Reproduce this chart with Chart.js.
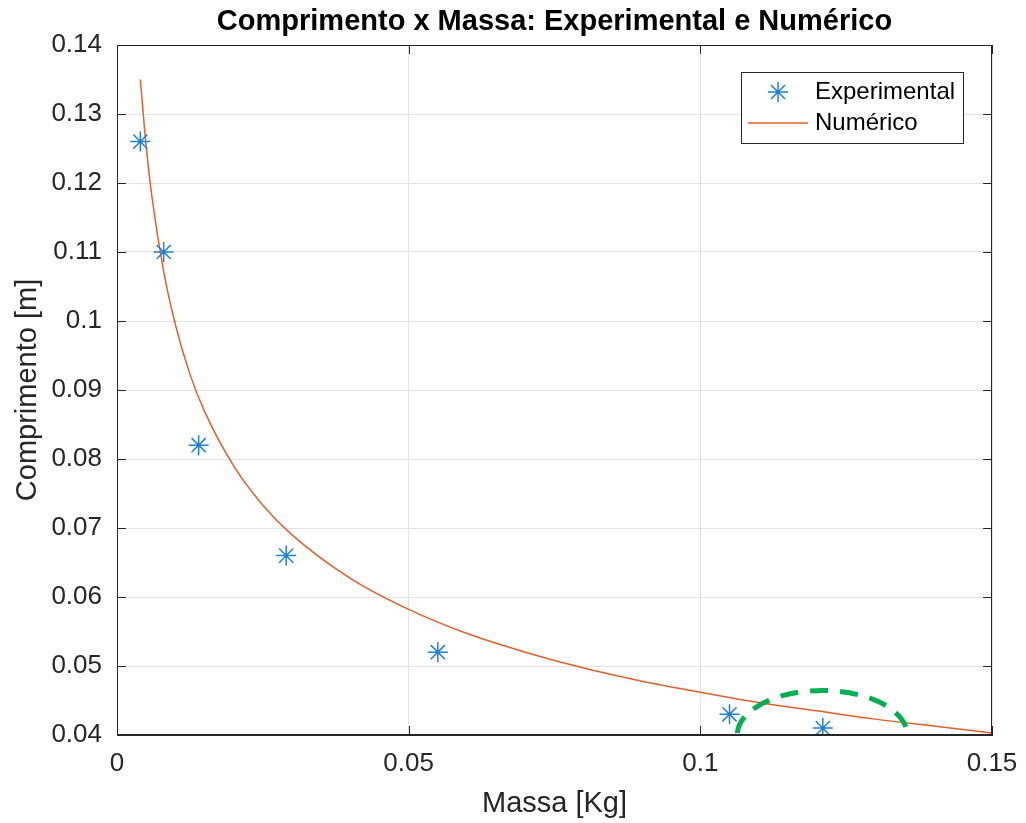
<!DOCTYPE html>
<html>
<head>
<meta charset="utf-8">
<script src="https://cdn.jsdelivr.net/npm/chart.js@4.4.1/dist/chart.umd.min.js"></script>
<style>
  html, body { margin: 0; padding: 0; background: #fff; }
  #wrap { width: 1026px; height: 823px; }
</style>
</head>
<body>
<div id="wrap"><canvas id="chart" width="1026" height="823"></canvas></div>
<script>
// measured points
const massaExp = [0.004, 0.008, 0.014, 0.029, 0.055, 0.105, 0.121];
const comprExp = [0.126, 0.110, 0.082, 0.066, 0.052, 0.043, 0.041];

// numeric curve
const massaNum = [0.004, 0.005, 0.006, 0.008, 0.010, 0.0125, 0.015, 0.020, 0.025, 0.030, 0.040,
                  0.050, 0.060, 0.070, 0.080, 0.090, 0.100, 0.110, 0.120, 0.130, 0.140, 0.150];
const comprNum = [0.1350, 0.1253, 0.1179, 0.1072, 0.0995, 0.0923, 0.0869, 0.0790, 0.0733, 0.0690, 0.0627,
                  0.0582, 0.0547, 0.0520, 0.0497, 0.0478, 0.0462, 0.0447, 0.0435, 0.0423, 0.0413, 0.0403];

const xTicks = [0, 0.05, 0.1, 0.15];
const yTicks = [0.04, 0.05, 0.06, 0.07, 0.08, 0.09, 0.1, 0.11, 0.12, 0.13, 0.14];

const titulo = 'Comprimento x Massa: Experimental e Numérico';

// highlighted region (data units): centre and half sizes
const destaque = { x: 0.1209, y: 0.04, rx: 0.01457, ry: 0.00645 };

const axisColor = '#262626';
const blue = '#1f80d2';
const orange = '#e0602a';
const fontName = '"Liberation Sans", Arial, sans-serif';

// title over the axes, box, inward ticks, ellipse and legend
const extras = {
  id: 'extras',
  afterDatasetsDraw(chart) {
    const { ctx, chartArea: a, scales: { x, y } } = chart;
    ctx.save();
    // ellipse
    ctx.beginPath();
    ctx.rect(a.left, a.top, a.right - a.left, a.bottom - a.top);
    ctx.clip();
    const cx = x.getPixelForValue(destaque.x);
    const cy = y.getPixelForValue(destaque.y);
    const rx = x.getPixelForValue(destaque.x + destaque.rx) - cx;
    const ry = cy - y.getPixelForValue(destaque.y + destaque.ry);
    ctx.beginPath();
    ctx.ellipse(cx, cy, rx, ry, 0, 0, Math.PI * 2);
    ctx.strokeStyle = '#00b050';
    ctx.lineWidth = 5;
    ctx.setLineDash([18, 12]);
    ctx.stroke();
    ctx.restore();

    ctx.save();
    // title
    ctx.font = 'bold 29px ' + fontName;
    ctx.fillStyle = '#000';
    ctx.textAlign = 'center';
    ctx.textBaseline = 'middle';
    ctx.fillText(titulo, (a.left + a.right) / 2, 22);

    // frame
    ctx.strokeStyle = axisColor;
    ctx.lineWidth = 1;
    ctx.strokeRect(a.left + 0.5, a.top + 0.5, a.right - a.left - 1, a.bottom - a.top - 1);
    // inward ticks
    ctx.beginPath();
    yTicks.forEach(v => {
      const py = Math.round(y.getPixelForValue(v)) + 0.5;
      ctx.moveTo(a.left, py); ctx.lineTo(a.left + 9, py);
      ctx.moveTo(a.right, py); ctx.lineTo(a.right - 9, py);
    });
    xTicks.forEach(v => {
      const px = Math.round(x.getPixelForValue(v)) + 0.5;
      ctx.moveTo(px, a.bottom); ctx.lineTo(px, a.bottom - 9);
      ctx.moveTo(px, a.top); ctx.lineTo(px, a.top + 9);
    });
    ctx.stroke();

    // legend
    const lw = 222, lh = 71;
    const lx = a.right - 29 - lw, ly = a.top + 27;
    ctx.fillStyle = '#fff';
    ctx.fillRect(lx, ly, lw, lh);
    ctx.strokeStyle = axisColor;
    ctx.strokeRect(lx + 0.5, ly + 0.5, lw, lh);
    ctx.font = '24px ' + fontName;
    ctx.fillStyle = '#000';
    ctx.textBaseline = 'middle';
    ctx.textAlign = 'left';
    ctx.fillText('Experimental', lx + 74, ly + 20);
    ctx.fillText('Numérico', lx + 74, ly + 51);
    // star marker
    const mx = lx + 37, my = ly + 20, r = 10;
    ctx.strokeStyle = blue;
    ctx.lineWidth = 1.5;
    ctx.beginPath();
    for (let k = 0; k < 4; k++) {
      const ang = k * Math.PI / 4;
      ctx.moveTo(mx - r * Math.cos(ang), my - r * Math.sin(ang));
      ctx.lineTo(mx + r * Math.cos(ang), my + r * Math.sin(ang));
    }
    ctx.stroke();
    ctx.strokeStyle = orange;
    ctx.beginPath();
    ctx.moveTo(lx + 7, ly + 51);
    ctx.lineTo(lx + 67, ly + 51);
    ctx.stroke();
    ctx.restore();
  }
};

const fmt = v => String(Number(v.toFixed(3)));

new Chart(document.getElementById('chart'), {
  type: 'scatter',
  data: {
    datasets: [
      {
        label: 'Experimental',
        data: massaExp.map((m, i) => ({ x: m, y: comprExp[i] })),
        pointStyle: 'star',
        pointRadius: 10,
        pointHoverRadius: 10,
        borderColor: blue,
        backgroundColor: blue,
        pointBorderWidth: 1.5,
        showLine: false,
        order: 1
      },
      {
        label: 'Numérico',
        data: massaNum.map((m, i) => ({ x: m, y: comprNum[i] })),
        showLine: true,
        borderColor: orange,
        borderWidth: 1.5,
        pointRadius: 0,
        cubicInterpolationMode: 'monotone',
        order: 2
      }
    ]
  },
  options: {
    responsive: false,
    animation: false,
    layout: { padding: { left: 0, right: 34, top: 45, bottom: 0 } },
    plugins: {
      legend: { display: false },
      tooltip: { enabled: false },
      title: { display: false }
    },
    scales: {
      x: {
        type: 'linear',
        min: 0,
        max: 0.15,
        afterFit: s => { s.height = 88; s.paddingRight = 0; s.paddingLeft = 0; },
        afterBuildTicks: s => { s.ticks = xTicks.map(v => ({ value: v })); },
        ticks: { color: axisColor, font: { family: fontName, size: 26 }, padding: 13, callback: fmt, maxRotation: 0 },
        grid: { color: '#e3e3e3', drawTicks: false },
        border: { color: axisColor },
        title: {
          display: true,
          text: 'Massa [Kg]',
          color: axisColor,
          font: { family: fontName, size: 29 },
          padding: { top: 0, bottom: 2 }
        }
      },
      y: {
        type: 'linear',
        min: 0.04,
        max: 0.14,
        afterFit: s => { s.width = 117; s.paddingTop = 0; s.paddingBottom = 0; },
        afterBuildTicks: s => { s.ticks = yTicks.map(v => ({ value: v })); },
        ticks: { color: axisColor, font: { family: fontName, size: 26 }, padding: 15, callback: fmt },
        grid: { color: '#e3e3e3', drawTicks: false },
        border: { color: axisColor },
        title: {
          display: true,
          text: 'Comprimento [m]',
          color: axisColor,
          font: { family: fontName, size: 29 },
          padding: { top: 11, bottom: 0 }
        }
      }
    }
  },
  plugins: [extras]
});
</script>
</body>
</html>
